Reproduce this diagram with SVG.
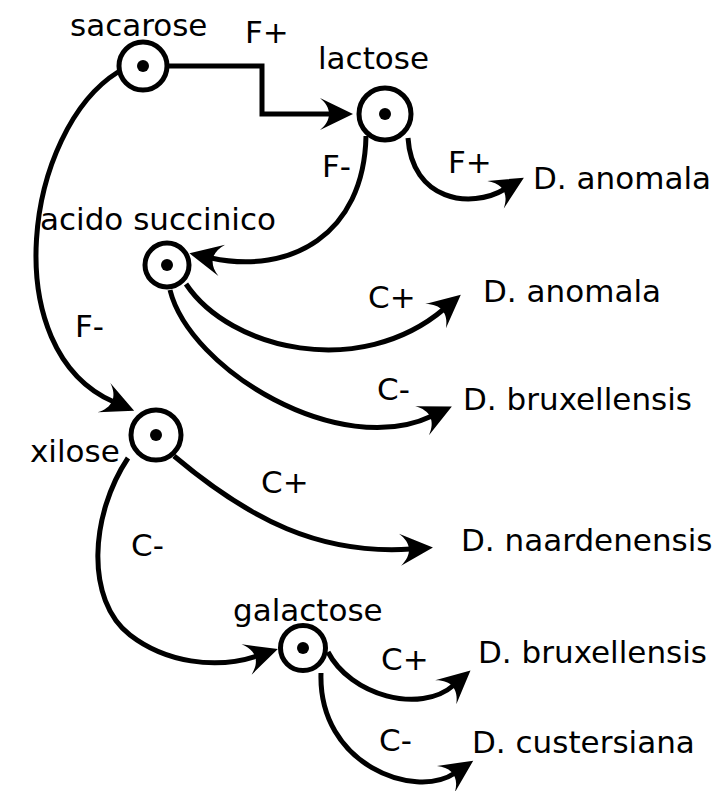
<svg xmlns="http://www.w3.org/2000/svg" width="722" height="791" viewBox="0 0 722 791">
<style>
.node circle.ring{fill:#fff;stroke:#000;stroke-width:5}
.node circle.dot{fill:#000}
text{font-family:"DejaVu Sans","Liberation Sans",sans-serif;font-size:31px;fill:#000}
#connectors path{fill:none;stroke:#000;stroke-width:5;marker-end:url(#arr)}
</style>
<defs>
<marker id="arr" markerUnits="userSpaceOnUse" viewBox="-34 -18 36 36" refX="-22" refY="0" markerWidth="36" markerHeight="36" orient="auto" overflow="visible">
<path d="M0,0 L-33,-16 C-21,-6 -21,6 -33,16 Z" fill="#000"/>
</marker>
</defs>
<rect width="722" height="791" fill="#fff"/>
<g id="connectors">
<path d="M167,66 H262 V114 H331"/>
<path d="M366,136 C364,235 290,275 211,258"/>
<path d="M408,138 C412,200 470,210 505,189"/>
<path d="M186,284 C230,350 360,380 444,309"/>
<path d="M170,290 C190,370 340,460 432,416"/>
<path d="M118,72 C25,130 -5,350 114,402"/>
<path d="M174,456 C250,520 320,555 411,549"/>
<path d="M128,458 C90,515 85,600 130,635 C165,662 215,670 257,656"/>
<path d="M328,652 C350,695 420,715 454,685"/>
<path d="M321,673 C318,765 415,800 455,773"/>
</g>
<g id="sacarose" class="node"><circle class="ring" cx="143" cy="66" r="24"/><circle class="dot" cx="143" cy="66" r="6"/><text x="70" y="36">sacarose</text></g>
<g id="lactose" class="node"><circle class="ring" cx="385" cy="114" r="26"/><circle class="dot" cx="385" cy="114" r="6"/><text x="318" y="69">lactose</text></g>
<g id="acido-succinico" class="node"><circle class="ring" cx="167" cy="265" r="22"/><circle class="dot" cx="167" cy="265" r="6"/><text x="40" y="230">acido succinico</text></g>
<g id="xilose" class="node"><circle class="ring" cx="156" cy="435" r="25"/><circle class="dot" cx="156" cy="435" r="6"/><text x="30" y="462">xilose</text></g>
<g id="galactose" class="node"><circle class="ring" cx="303" cy="648" r="22.5"/><circle class="dot" cx="303" cy="648" r="6"/><text x="233" y="621">galactose</text></g>
<g id="anomala1" class="node"><text x="533" y="189">D. anomala</text></g>
<g id="anomala2" class="node"><text x="483" y="302">D. anomala</text></g>
<g id="bruxellensis1" class="node"><text x="463" y="410">D. bruxellensis</text></g>
<g id="naardenensis" class="node"><text x="461" y="551">D. naardenensis</text></g>
<g id="bruxellensis2" class="node"><text x="478" y="663">D. bruxellensis</text></g>
<g id="custersiana" class="node"><text x="472" y="753">D. custersiana</text></g>
<g id="labels">
<text x="245" y="43">F+</text>
<text x="322" y="177">F-</text>
<text x="448" y="173">F+</text>
<text x="368" y="308">C+</text>
<text x="377" y="400">C-</text>
<text x="75" y="337">F-</text>
<text x="261" y="493">C+</text>
<text x="131" y="556">C-</text>
<text x="381" y="670">C+</text>
<text x="379" y="751">C-</text>
</g>
</svg>
